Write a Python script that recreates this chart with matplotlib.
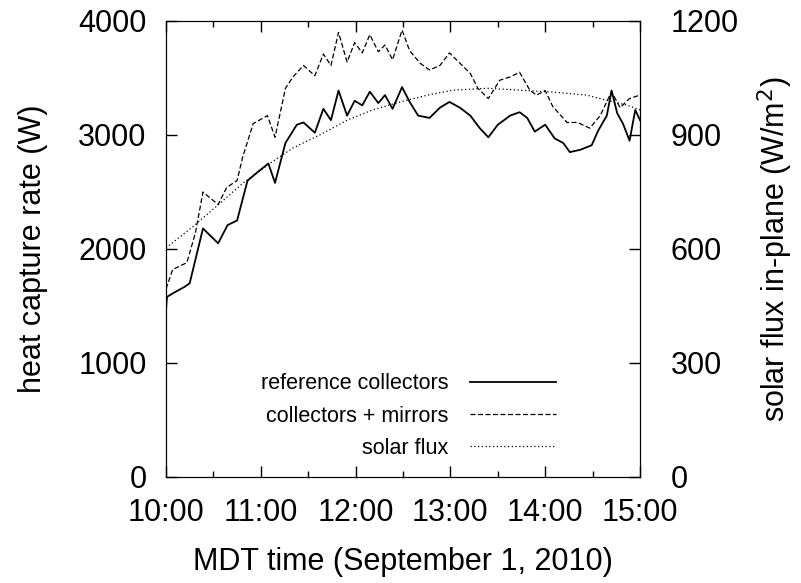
import matplotlib
matplotlib.use("Agg")
import matplotlib.pyplot as plt
from matplotlib.ticker import MultipleLocator, FuncFormatter

plt.rcParams['font.family'] = ['Liberation Sans', 'DejaVu Sans']

# time of day in decimal hours (MDT)
ref_t = [10.00, 10.01, 10.07, 10.20, 10.25, 10.39, 10.55, 10.65, 10.75, 10.86,
         10.96, 11.08, 11.15, 11.26, 11.38, 11.45, 11.57, 11.66, 11.74, 11.82,
         11.91, 11.99, 12.07, 12.15, 12.24, 12.31, 12.39, 12.49, 12.57, 12.66,
         12.78, 12.89, 12.99, 13.10, 13.21, 13.31, 13.40, 13.50, 13.63, 13.73,
         13.81, 13.89, 14.00, 14.10, 14.19, 14.26, 14.37, 14.49, 14.56, 14.65,
         14.70, 14.76, 14.82, 14.89, 14.95, 15.00]
ref_w = [1460, 1580, 1610, 1670, 1700, 2180, 2050, 2210, 2250, 2600,
         2670, 2750, 2580, 2930, 3090, 3110, 3020, 3230, 3130, 3390,
         3170, 3300, 3260, 3380, 3280, 3350, 3230, 3420, 3290, 3170,
         3150, 3240, 3290, 3240, 3170, 3060, 2980, 3090, 3170, 3200,
         3150, 3030, 3090, 2970, 2930, 2850, 2870, 2910, 3040, 3170,
         3390, 3190, 3100, 2950, 3220, 3130]

mir_t = [10.00, 10.07, 10.22, 10.31, 10.39, 10.55, 10.64, 10.75, 10.81, 10.92,
         11.07, 11.15, 11.26, 11.34, 11.45, 11.57, 11.66, 11.74, 11.82, 11.91,
         11.99, 12.07, 12.15, 12.24, 12.31, 12.39, 12.49, 12.57, 12.68, 12.78,
         12.89, 12.99, 13.10, 13.21, 13.29, 13.40, 13.52, 13.63, 13.73, 13.84,
         13.91, 14.00, 14.08, 14.23, 14.34, 14.47, 14.58, 14.70, 14.79, 14.89,
         15.00]
mir_w = [1650, 1820, 1880, 2140, 2500, 2390, 2540, 2600, 2810, 3100,
         3170, 2980, 3410, 3510, 3610, 3520, 3710, 3610, 3900, 3640,
         3810, 3720, 3880, 3730, 3790, 3660, 3920, 3740, 3630, 3570,
         3610, 3720, 3630, 3540, 3410, 3320, 3480, 3510, 3550, 3390,
         3350, 3390, 3250, 3110, 3110, 3060, 3170, 3380, 3240, 3320,
         3350]

sun_t = [10.00, 10.28, 10.55, 10.81, 11.10, 11.34, 11.62, 11.91, 12.18, 12.47,
         12.68, 12.76, 13.03, 13.39, 13.73, 14.08, 14.44, 14.65, 14.86, 15.00]
sun_flux = [603, 658, 716, 773, 826, 866, 900, 939, 966, 987,
            1000, 1005, 1018, 1023, 1018, 1013, 1005, 991, 979, 966]

fig = plt.figure(figsize=(8.01, 5.83), dpi=100)
ax = fig.add_axes([166/801, 1 - 477/583, (640-166)/801, (477-21)/583])
ax2 = ax.twinx()

l1, = ax.plot(ref_t, ref_w, color='black', lw=1.3, label='reference collectors')
l2, = ax.plot(mir_t, mir_w, color='black', lw=0.9, dashes=(4, 2), label='collectors + mirrors')
l3, = ax2.plot(sun_t, sun_flux, color='black', lw=0.9, dashes=(1, 2), label='solar flux')

ax.set_xlim(10, 15)
ax.set_ylim(0, 4000)
ax2.set_ylim(0, 1200)

ax.xaxis.set_major_locator(MultipleLocator(1))
ax.xaxis.set_minor_locator(MultipleLocator(0.5))
ax.xaxis.set_major_formatter(FuncFormatter(lambda h, p: "%d:%02d" % (int(h), round((h % 1) * 60))))
ax.yaxis.set_major_locator(MultipleLocator(1000))
ax2.yaxis.set_major_locator(MultipleLocator(300))

ax.tick_params(axis='x', which='both', direction='in', top=True, labelsize=22, pad=15)
ax.tick_params(axis='x', which='major', length=8, width=1)
ax.tick_params(axis='x', which='minor', length=4, width=1)
ax.tick_params(axis='y', direction='in', length=8, width=1, labelsize=22, pad=14)
ax2.tick_params(axis='y', direction='in', length=8, width=1, labelsize=22, pad=22)

ax.set_xlabel('MDT time (September 1, 2010)', fontsize=22, labelpad=14)
ax.set_ylabel('heat capture rate (W)', fontsize=22, labelpad=22)
ax2.set_ylabel('solar flux in-plane (W/m$^2$)', fontsize=22, labelpad=12)

ax.legend(handles=[l1, l2, l3], loc='lower right', bbox_to_anchor=(0.823, 0.04),
          frameon=False, markerfirst=False, fontsize=15.5, handlelength=4,
          handletextpad=1.0, labelspacing=0.52, borderpad=0, borderaxespad=0)

fig.savefig('out.png', dpi=100)
